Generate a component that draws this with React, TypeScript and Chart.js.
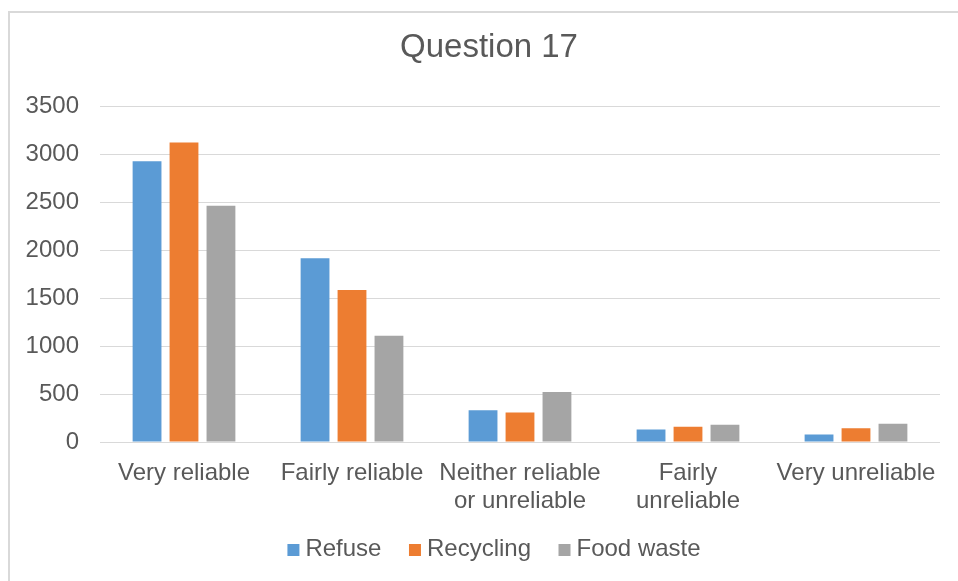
import React, { useEffect, useRef } from "react";
import { Chart, registerables } from "chart.js";

Chart.register(...registerables);

const title = "Question 17";
const categories: (string | string[])[] = [
  "Very reliable",
  "Fairly reliable",
  ["Neither reliable", "or unreliable"],
  ["Fairly", "unreliable"],
  "Very unreliable",
];
const seriesNames = ["Refuse", "Recycling", "Food waste"];
const refuse = [2930, 1917, 331, 131, 77];
const recycling = [3125, 1586, 307, 159, 144];
const foodWaste = [2465, 1108, 521, 180, 190];
const seriesColors = ["#5B9BD5", "#ED7D31", "#A5A5A5"];
const yMin = 0;
const yMax = 3500;
const yStep = 500;

const FONT = "'Liberation Sans', Arial, sans-serif";
const TEXT = "#595959";
const GRID = "#d9d9d9";

// Legend drawn on the canvas with Excel-like spacing
const legendPlugin = {
  id: "excelLegend",
  afterDraw(chart: any) {
    const ctx = chart.ctx as CanvasRenderingContext2D;
    const items = chart.data.datasets.map((d: any) => ({
      text: d.label as string,
      color: d.backgroundColor as string,
    }));
    const box = 12;
    const gap = 6;
    const itemGap = 27.5;
    ctx.save();
    ctx.font = `24px ${FONT}`;
    const widths = items.map((it: any) => ctx.measureText(it.text).width);
    const total =
      widths.reduce((a: number, b: number) => a + b, 0) +
      items.length * (box + gap) +
      (items.length - 1) * itemGap;
    const cx = 484;
    const cy = 537;
    let x = cx - total / 2;
    ctx.textBaseline = "middle";
    ctx.textAlign = "left";
    items.forEach((it: any, i: number) => {
      ctx.fillStyle = it.color;
      ctx.fillRect(x, cy - box / 2 + 1, box, box);
      x += box + gap;
      ctx.fillStyle = TEXT;
      ctx.fillText(it.text, x, cy);
      x += widths[i] + itemGap;
    });
    ctx.restore();
  },
};

export default function App() {
  const ref = useRef<HTMLCanvasElement | null>(null);

  useEffect(() => {
    if (!ref.current) return;
    const values = [refuse, recycling, foodWaste];
    const chart = new Chart(ref.current, {
      type: "bar",
      data: {
        labels: categories,
        datasets: seriesNames.map((name, i) => ({
          label: name,
          data: values[i],
          backgroundColor: seriesColors[i],
          borderWidth: 0,
          categoryPercentage: 0.66,
          barPercentage: 0.78,
        })),
      },
      options: {
        responsive: false,
        animation: false,
        layout: { padding: { top: 0, left: 7, right: 9, bottom: 0 } },
        plugins: {
          title: {
            display: true,
            text: title,
            color: TEXT,
            font: { family: FONT, size: 33, weight: "normal", lineHeight: 1.2 },
            padding: { top: 16, bottom: 39 },
          },
          legend: { display: false },
          tooltip: { enabled: false },
        },
        scales: {
          x: {
            grid: { display: false, drawTicks: false },
            border: { display: false },
            ticks: {
              color: TEXT,
              font: { family: FONT, size: 24, lineHeight: 1.15 },
              padding: 18,
              maxRotation: 0,
              autoSkip: false,
            },
            afterFit: (scale: any) => {
              scale.height = 139;
            },
          },
          y: {
            min: yMin,
            max: yMax,
            grid: { color: GRID, lineWidth: 1, drawTicks: false },
            border: { display: false },
            ticks: {
              stepSize: yStep,
              color: TEXT,
              font: { family: FONT, size: 24 },
              padding: 21,
              callback: (v: any) => String(v),
            },
            afterFit: (scale: any) => {
              scale.width = 83;
            },
          },
          yRightSpacer: {
            type: "linear",
            position: "right",
            display: true,
            grid: { display: false, drawTicks: false },
            border: { display: false },
            ticks: { display: false },
            afterFit: (scale: any) => {
              scale.width = 21;
            },
          },
        },
      },
      plugins: [legendPlugin],
    });
    return () => chart.destroy();
  }, []);

  return (
    <div
      style={{
        position: "fixed",
        left: 0,
        top: 0,
        width: 958,
        height: 581,
        overflow: "hidden",
        background: "#fff",
      }}
    >
      <div
        style={{
          position: "absolute",
          left: 8,
          top: 11,
          width: 1000,
          height: 600,
          borderTop: `2px solid ${GRID}`,
          borderLeft: `2px solid ${GRID}`,
        }}
      />
      <canvas
        ref={ref}
        width={960}
        height={569}
        style={{ position: "absolute", left: 10, top: 12, width: 960, height: 569 }}
      />
    </div>
  );
}
